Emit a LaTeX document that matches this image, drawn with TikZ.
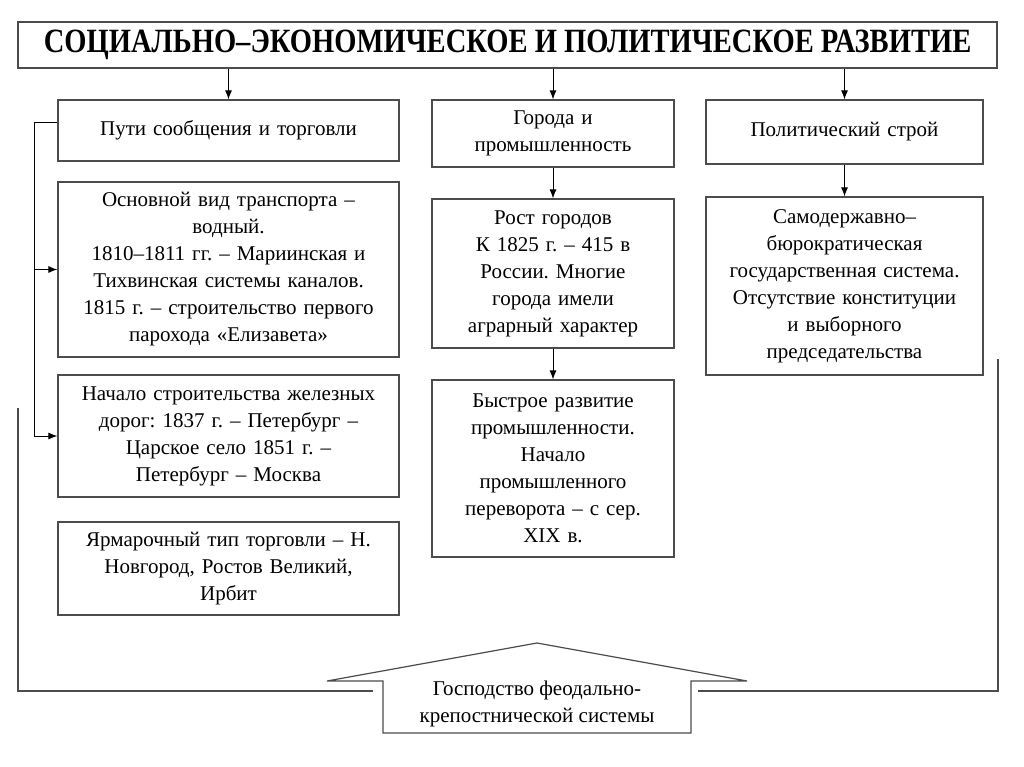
\documentclass[tikz,border=0pt]{standalone}
\usepackage{fontspec}
\newfontfamily\tnr{Liberation Serif}
\usetikzlibrary{arrows.meta}
\frenchspacing

\tikzset{
    box/.style={draw=black!70, line width=1.2pt, align=center, inner sep=2pt,
        font=\tnr\fontsize{21}{27}\selectfont},
    leftcol/.style={box, minimum width=341pt, text width=334pt},
    midcol/.style={box, minimum width=242pt, text width=236pt},
    rightcol/.style={box, minimum width=277pt, text width=270pt},
    arr/.style={draw=black, line width=1pt, -{Latex[length=9pt,width=7pt]}},
    frame/.style={draw=black!70, line width=1.2pt}
}

\begin{document}
\begin{tikzpicture}[x=1pt,y=-1pt]

    \def\upshape{(383,733) -- (383,681) -- (327,681) -- (537,643) -- (747,681) -- (691,681) -- (691,733) -- cycle}

    \useasboundingbox (0,0) rectangle (1024,767);
    \fill[white] (0,0) rectangle (1024,767);

    %title:
    \node[box, minimum width=979pt, minimum height=46pt] (title) at (507.5,45)
        {\fontsize{34}{34}\selectfont\bfseries\raisebox{-3pt}{\scalebox{0.84}[1]{СОЦИАЛЬНО–ЭКОНОМИЧЕСКОЕ И ПОЛИТИЧЕСКОЕ РАЗВИТИЕ}}};

    %left column:
    \node[leftcol, minimum height=61pt] (puti) at (228.5,130.5) {Пути сообщения и торговли};
    \node[leftcol, minimum height=175pt] (osnov) at (228.5,269.5)
        {Основной вид транспорта –\\ водный.\\ 1810–1811 гг. – Мариинская и\\ Тихвинская системы каналов.\\ 1815 г. – строительство первого\\ парохода «Елизавета»};
    \node[leftcol, minimum height=122pt] (zhel) at (228.5,436)
        {Начало строительства железных\\ дорог: 1837 г. – Петербург –\\ Царское село 1851 г. –\\ Петербург – Москва};
    \node[leftcol, minimum height=93pt] (yarm) at (228.5,568.5)
        {Ярмарочный тип торговли – Н.\\ Новгород, Ростов Великий,\\ Ирбит};

    %middle column:
    \node[midcol, minimum height=67pt] (goroda) at (553,133.5) {Города и\\ промышленность};
    \node[midcol, minimum height=149pt] (rost) at (553,273.5)
        {Рост городов\\ К 1825 г. – 415 в\\ России. Многие\\ города имели\\ аграрный характер};
    \node[midcol, minimum height=177pt] (prom) at (553,468.5)
        {Быстрое развитие\\ промышленности.\\ Начало\\ промышленного\\ переворота – с сер.\\ XIX в.};

    %right column:
    \node[rightcol, minimum height=64pt] (polit) at (844.5,132) {Политический строй};
    \node[rightcol, minimum height=178pt] (samod) at (844.5,286)
        {Самодержавно–\\ бюрократическая\\ государственная система.\\ Отсутствие конституции\\ и выборного\\ председательства};

    %arrows:
    \draw[arr] (title.south -| puti.north) -- (puti.north);
    \draw[arr] (title.south -| goroda.north) -- (goroda.north);
    \draw[arr] (title.south -| polit.north) -- (polit.north);
    \draw[arr] (goroda.south) -- (rost.north);
    \draw[arr] (rost.south) -- (prom.north);
    \draw[arr] (polit.south) -- (samod.north);

    %left bracket:
    \coordinate (bend) at (34,123);
    \draw[line width=1pt] (bend -| puti.west) -- (bend) -- (bend |- zhel.west);
    \draw[arr] (bend |- osnov.west) -- (osnov.west);
    \draw[arr] (bend |- zhel.west) -- (zhel.west);

    %bottom frame and arrow:
    \draw[frame] (18,408) -- (18,691) -- (373,691);
    \draw[frame] (698,691) -- (998,691) -- (998,359);
    \draw[frame, fill=white] \upshape;
    \node[align=center, font=\tnr\fontsize{21}{27}\selectfont] (gosp) at (537,704)
        {Господство феодально-\\ крепостнической системы};

\end{tikzpicture}
\end{document}
